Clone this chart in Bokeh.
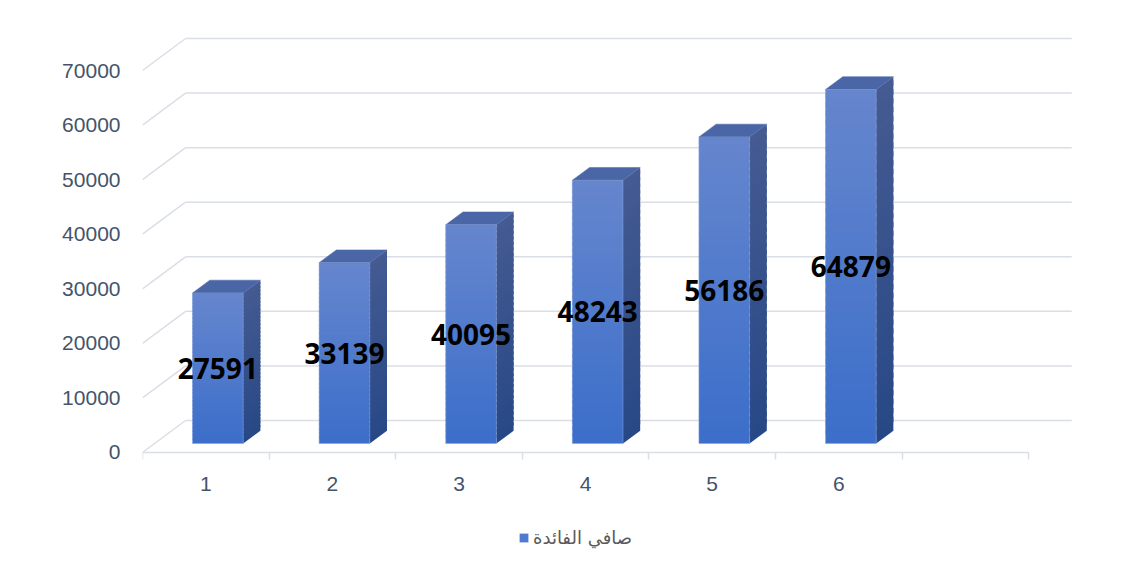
import numpy as np
from bokeh.plotting import figure
from bokeh.models import Range1d, FixedTicker, Legend, LegendItem
from bokeh.embed import file_html
from bokeh.resources import INLINE
from bokeh.core.properties import value

# ---------------- data ----------------
categories = [1, 2, 3, 4, 5, 6]
x_labels = ["1", "2", "3", "4", "5", "6"]
n_slots = 7  # the category axis has one extra empty slot
net_interest = [27591, 33139, 40095, 48243, 56186, 64879]
series_name = "صافي الفائدة"
y_ticks = [0, 10000, 20000, 30000, 40000, 50000, 60000, 70000]

# ---------------- 3D projection style ----------------
DX = 0.34      # depth offset along x (category units)
DY = 5864      # depth offset along y (value units)
F0, F1 = 0.28, 0.68   # front/back depth fraction of the bars
HALF = 0.2     # half bar width (category units)
N = 40         # gradient slices

GRID = "#dadee5"
FRONT_BOT, FRONT_TOP = (0x3b, 0x6e, 0xca), (0x66, 0x86, 0xcd)
SIDE_BOT, SIDE_TOP = (0x27, 0x48, 0x86), (0x45, 0x5b, 0x92)
TOP_COLOR = "#4a66a6"


def lerp(c0, c1, t):
    return "#%02x%02x%02x" % tuple(int(round(a + (b - a) * t)) for a, b in zip(c0, c1))


p = figure(width=1115, height=560,
           x_range=Range1d(0.5, 8.067), y_range=Range1d(-19425, 77698),
           output_backend="svg", toolbar_location=None,
           min_border_left=142, min_border_right=15, min_border_top=28, min_border_bottom=2)
p.xgrid.visible = False
p.ygrid.visible = False
p.outline_line_color = None
p.background_fill_color = "white"
p.border_fill_color = "white"

# ---------------- walls ----------------
x_lo, x_hi = 0.5, 0.5 + n_slots
p.segment(x0=[x_lo + DX] * len(y_ticks), y0=[v + DY for v in y_ticks],
          x1=[x_hi + DX] * len(y_ticks), y1=[v + DY for v in y_ticks],
          line_color=GRID, line_width=1.5)
p.segment(x0=[x_lo] * len(y_ticks), y0=y_ticks,
          x1=[x_lo + DX] * len(y_ticks), y1=[v + DY for v in y_ticks],
          line_color=GRID, line_width=1.5)
p.segment(x0=[x_lo], y0=[0], x1=[x_hi], y1=[0], line_color=GRID, line_width=1.5)

# ---------------- bars ----------------
fl, fr, fb, ft, fc = [], [], [], [], []
sx, sy, sc = [], [], []
tx, ty = [], []
ol, orr, ob, ot = [], [], [], []
lab_x, lab_y, lab_t = [], [], []
ddx, ddy = (F1 - F0) * DX, (F1 - F0) * DY
for c, v in zip(categories, net_interest):
    L = c - HALF + F0 * DX
    R = c + HALF + F0 * DX
    b = F0 * DY
    t = v + F0 * DY
    h = (t - b) / N
    for k in range(N):
        yb = b + h * k
        yt = min(t, b + h * (k + 1.6))  # slight overlap hides seams
        fl.append(L); fr.append(R); fb.append(yb); ft.append(yt)
        fc.append(lerp(FRONT_BOT, FRONT_TOP, (k + 0.5) / N))
        sx.append([R, R + ddx, R + ddx, R])
        sy.append([yb, yb + ddy, yt + ddy, yt])
        sc.append(lerp(SIDE_BOT, SIDE_TOP, (k + 0.5) / N))
    tx.append([L, R, R + ddx, L + ddx])
    ty.append([t, t, t + ddy, t + ddy])
    ol.append(L); orr.append(R); ob.append(b); ot.append(t)
    lab_x.append((L + R) / 2)
    lab_y.append(b + v / 2)
    lab_t.append(str(v))

front = p.quad(left=fl, right=fr, bottom=fb, top=ft, fill_color=fc, line_color=None)
p.patches(xs=sx, ys=sy, fill_color=sc, line_color=None)
p.patches(xs=tx, ys=ty, fill_color=TOP_COLOR, line_color=TOP_COLOR, line_width=0.5)
p.quad(left=ol, right=orr, bottom=ob, top=ot,
       fill_color=None, line_color="#85a2dc", line_width=0.8, line_alpha=0.7)

p.text(x=lab_x, y=lab_y, text=lab_t, text_align="center", text_baseline="middle",
       text_font=value("Noto Sans"), text_font_style="bold", text_font_size="28px",
       text_color="black")

# ---------------- axes ----------------
p.yaxis.ticker = FixedTicker(ticks=y_ticks)
p.yaxis.axis_line_color = None
p.yaxis.major_tick_line_color = None
p.yaxis.minor_tick_line_color = None
p.yaxis.major_tick_out = 0
p.yaxis.major_label_standoff = 22
p.yaxis.major_label_text_font = "Liberation Sans"
p.yaxis.major_label_text_font_size = "21px"
p.yaxis.major_label_text_color = "#44546a"

p.xaxis.fixed_location = 0
p.xaxis.ticker = FixedTicker(ticks=categories, minor_ticks=[0.5 + i for i in range(n_slots + 1)])
p.xaxis.major_label_overrides = {c: s for c, s in zip(categories, x_labels)}
p.xaxis.axis_line_color = None
p.xaxis.major_tick_line_color = None
p.xaxis.major_tick_out = 0
p.xaxis.major_tick_in = 0
p.xaxis.minor_tick_line_color = GRID
p.xaxis.minor_tick_line_width = 1.5
p.xaxis.minor_tick_in = 0
p.xaxis.minor_tick_out = 7
p.xaxis.major_label_standoff = 18
p.xaxis.major_label_text_font = "Liberation Sans"
p.xaxis.major_label_text_font_size = "21px"
p.xaxis.major_label_text_color = "#44546a"

# ---------------- legend ----------------
legend = Legend(items=[LegendItem(label=series_name, renderers=[front], index=N // 2)],
                location=(376, 10), orientation="horizontal",
                glyph_width=11, glyph_height=11, label_standoff=4,
                padding=0, margin=0, border_line_color=None, background_fill_alpha=0,
                label_text_font="DejaVu Sans", label_text_font_size="18px",
                label_text_color="#595959")
p.add_layout(legend, "center")

open("out.html", "w").write(file_html(p, INLINE))
